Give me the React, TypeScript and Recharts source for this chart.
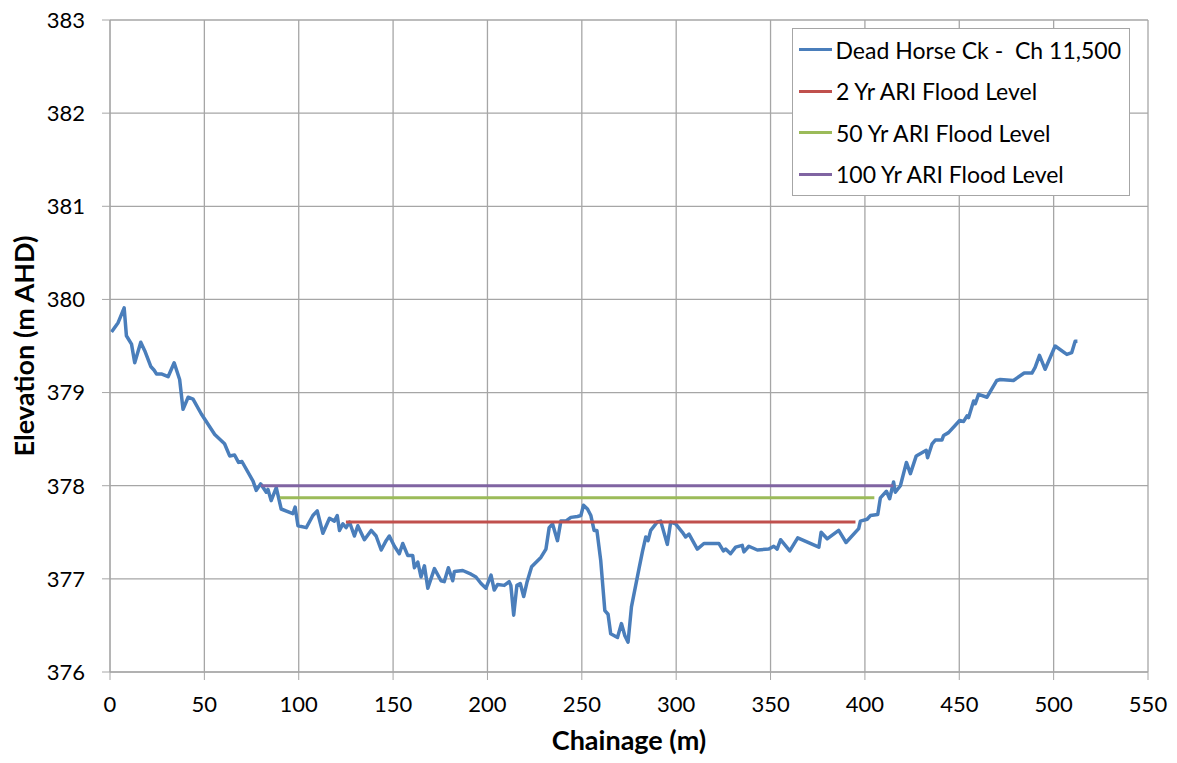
import { LineChart, Line, XAxis, YAxis, CartesianGrid, Legend } from "recharts";

// ground profile
const chainage = [
  0.8, 4.3, 7.5, 8.7, 11.4, 13.1, 16.3, 18.4, 21.6, 23.4, 24.6, 27.2, 30.8, 34.0, 36.9, 38.7, 41.4, 44.0,
  48.4, 55.5, 60.7, 63.4, 66.0, 68.1, 69.9, 75.8, 77.5, 79.8, 82.8, 83.7, 85.4, 88.1, 90.7, 96.9, 98.1,
  99.6, 104.0, 107.5, 109.8, 112.8, 116.3, 118.9, 120.4, 121.6, 123.4, 125.1, 126.9, 129.5, 131.3, 134.8,
  138.4, 141.0, 143.7, 146.3, 148.0, 150.7, 153.3, 155.1, 157.8, 160.4, 161.3, 163.1, 164.8, 166.6, 168.4,
  171.9, 175.4, 177.1, 179.3, 181.6, 182.5, 186.9, 191.3, 193.9, 196.6, 199.2, 201.9, 203.6, 205.4, 208.9,
  211.5, 212.4, 213.9, 215.6, 217.4, 219.2, 220.9, 223.4, 228.3, 231.0, 232.7, 234.5, 237.1, 238.9, 241.5,
  244.2, 247.7, 249.5, 250.9, 253.0, 254.8, 256.5, 258.0, 260.0, 262.2, 263.9, 265.3, 268.9, 271.0, 272.8,
  274.5, 276.3, 280.3, 282.1, 283.9, 285.1, 286.5, 290.0, 291.8, 295.3, 297.1, 299.7, 303.3, 305.0, 306.8,
  311.2, 314.7, 322.6, 325.0, 326.2, 328.8, 331.5, 335.0, 335.9, 338.5, 343.0, 349.1, 351.7, 353.5, 355.3,
  360.2, 364.4, 375.6, 376.8, 380.0, 386.1, 390.0, 396.7, 397.6, 401.2, 402.9, 406.8, 408.2, 411.4, 413.1,
  415.2, 416.1, 418.8, 422.0, 424.1, 427.2, 432.5, 433.2, 435.6, 437.3, 440.8, 441.7, 444.3, 450.2, 452.3,
  454.1, 454.9, 457.6, 458.5, 460.2, 464.7, 466.4, 469.9, 471.7, 478.7, 484.4, 488.5, 490.2, 492.5, 495.5,
  500.8, 507.0, 509.6, 511.4, 512.6,
];
const elevation = [
  379.65, 379.75, 379.91, 379.61, 379.52, 379.32, 379.54, 379.45, 379.28, 379.24, 379.2, 379.2, 379.17,
  379.32, 379.14, 378.82, 378.95, 378.93, 378.77, 378.55, 378.45, 378.32, 378.33, 378.25, 378.26, 378.05,
  377.95, 378.02, 377.93, 377.96, 377.84, 377.98, 377.75, 377.7, 377.77, 377.57, 377.55, 377.68, 377.73,
  377.49, 377.65, 377.62, 377.68, 377.52, 377.59, 377.55, 377.61, 377.46, 377.57, 377.42, 377.52, 377.46,
  377.31, 377.41, 377.46, 377.35, 377.27, 377.38, 377.25, 377.25, 377.12, 377.18, 377.02, 377.14, 376.9,
  377.11, 376.98, 376.97, 377.12, 376.98, 377.08, 377.09, 377.05, 377.02, 376.95, 376.9, 377.04, 376.88,
  376.94, 376.93, 376.97, 376.93, 376.61, 376.93, 376.95, 376.81, 376.96, 377.13, 377.23, 377.32, 377.55,
  377.59, 377.41, 377.62, 377.62, 377.66, 377.67, 377.68, 377.79, 377.75, 377.68, 377.52, 377.52, 377.2,
  376.66, 376.62, 376.41, 376.37, 376.52, 376.39, 376.32, 376.7, 377.11, 377.29, 377.45, 377.41, 377.52,
  377.61, 377.62, 377.37, 377.61, 377.59, 377.5, 377.45, 377.48, 377.32, 377.38, 377.38, 377.3, 377.32,
  377.27, 377.34, 377.36, 377.29, 377.35, 377.31, 377.32, 377.35, 377.32, 377.42, 377.3, 377.44, 377.34,
  377.5, 377.43, 377.52, 377.39, 377.54, 377.62, 377.64, 377.68, 377.69, 377.87, 377.94, 377.86, 378.04,
  377.93, 378.0, 378.25, 378.13, 378.32, 378.38, 378.3, 378.45, 378.49, 378.49, 378.54, 378.57, 378.7,
  378.69, 378.75, 378.73, 378.91, 378.88, 378.98, 378.95, 379.01, 379.13, 379.14, 379.13, 379.21, 379.21,
  379.27, 379.4, 379.25, 379.5, 379.41, 379.43, 379.55, 379.55,
];

const profileName = "Dead Horse Ck -  Ch 11,500";
const profileColor = "#4a7ebb";

// flood levels: name, level, extent
const floodNames = ["2 Yr ARI Flood Level", "50 Yr ARI Flood Level", "100 Yr ARI Flood Level"];
const floodLevels = [377.61, 377.87, 378.0];
const floodStarts = [125, 90, 80];
const floodEnds = [395, 405, 415];
const floodColors = ["#c0504d", "#9bbb59", "#8064a2"];

const xTicks = [0, 50, 100, 150, 200, 250, 300, 350, 400, 450, 500, 550];
const yTicks = [376, 377, 378, 379, 380, 381, 382, 383];

const profile = chainage.map((x, i) => ({ x, y: elevation[i] }));
const floods = floodNames.map((name, i) => ({
  name,
  color: floodColors[i],
  data: [
    { x: floodStarts[i], y: floodLevels[i] },
    { x: floodEnds[i], y: floodLevels[i] },
  ],
}));

// legend keeps the series order (recharts would sort it by name)
const legendItems = [
  { name: profileName, color: profileColor },
  ...floods.map((f) => ({ name: f.name, color: f.color })),
];

const FONT = "Lato, 'Open Sans', sans-serif";
const GRID = "#a6a6a6";

const renderLegend = () => (
  <div
    style={{
      border: "1px solid #a6a6a6",
      background: "#fff",
      padding: "0 8px 0 6px",
      fontFamily: FONT,
      fontSize: 23,
      color: "#000",
      boxSizing: "border-box",
      width: 338,
    }}
  >
    {legendItems.map((it) => (
      <div key={it.name} style={{ display: "flex", alignItems: "center", height: 41.5 }}>
        <span style={{ display: "inline-block", width: 33, height: 3, background: it.color, marginRight: 4 }} />
        <span style={{ whiteSpace: "pre" }}>{it.name}</span>
      </div>
    ))}
  </div>
);

export default function App() {
  return (
    <div style={{ width: 1177, height: 763, background: "#fff" }}>
      <style>{"body{margin:0}"}</style>
      <LineChart
        width={1177}
        height={763}
        margin={{ top: 20, right: 29, left: 0, bottom: 0 }}
        style={{ fontFamily: FONT }}
      >
        <CartesianGrid stroke={GRID} strokeWidth={1.3} />
        <XAxis
          type="number"
          dataKey="x"
          domain={[0, 550]}
          ticks={xTicks}
          allowDataOverflow
          height={91}
          stroke={GRID}
          tickSize={8}
          tickMargin={16}
          tick={{ fontSize: 22, fill: "#000" }}
          label={{
            value: "Chainage (m)",
            position: "insideBottom",
            offset: 13,
            style: { fontSize: 27, fontWeight: 700, fill: "#000" },
          }}
        />
        <YAxis
          type="number"
          dataKey="y"
          domain={[376, 383]}
          ticks={yTicks}
          allowDataOverflow
          width={110}
          stroke={GRID}
          tickSize={8}
          tickMargin={17}
          tick={{ fontSize: 22, fill: "#000" }}
          label={{
            value: "Elevation (m AHD)",
            angle: -90,
            position: "insideLeft",
            offset: 24,
            style: { fontSize: 27, fontWeight: 700, fill: "#000", textAnchor: "middle" },
          }}
        />
        <Legend
          layout="horizontal"
          verticalAlign="middle"
          align="center"
          content={renderLegend}
          wrapperStyle={{ left: 792, top: 28, width: 338 }}
        />
        <Line
          data={profile}
          dataKey="y"
          name={profileName}
          stroke={profileColor}
          strokeWidth={3.5}
          strokeLinejoin="round"
          dot={false}
          type="linear"
          isAnimationActive={false}
        />
        {floods.map((f) => (
          <Line
            key={f.name}
            data={f.data}
            dataKey="y"
            name={f.name}
            stroke={f.color}
            strokeWidth={3}
            dot={false}
            type="linear"
            isAnimationActive={false}
          />
        ))}
      </LineChart>
    </div>
  );
}
